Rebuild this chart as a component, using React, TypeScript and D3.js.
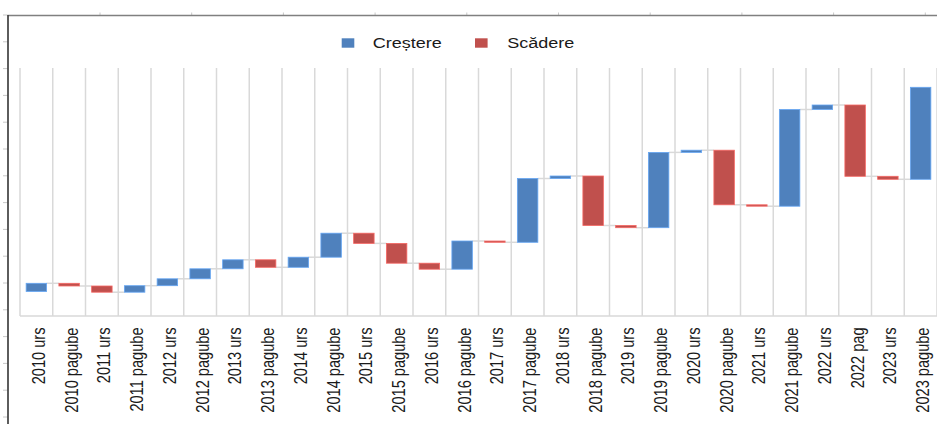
import React from 'react';
import * as d3 from 'd3';

const categories = [
  '2010 urs', '2010 pagube', '2011 urs', '2011 pagube', '2012 urs', '2012 pagube',
  '2013 urs', '2013 pagube', '2014 urs', '2014 pagube', '2015 urs', '2015 pagube',
  '2016 urs', '2016 pagube', '2017 urs', '2017 pagube', '2018 urs', '2018 pagube',
  '2019 urs', '2019 pagube', '2020 urs', '2020 pagube', '2021 urs', '2021 pagube',
  '2022 urs', '2022 pag', '2023 urs', '2023 pagube',
];
const startValue = 24.5;
const changes = [
  8.2, -2.7, -6.2, 6.5, 6.9, 10, 9, -7.5, 10.1, 24, -10.2, -19.8, -6, 28.2,
  -1.3, 63.8, 2.5, -49.5, -2.2, 75.3, 2.2, -54.6, -1.4, 96.7, 4.5, -71.3, -3, 92,
];
const seriesNames = ['Creștere', 'Scădere'];
const seriesColors = ['#4F81BD', '#C0504D'];
const yDomain = [0, 248];

const W = 937;
const H = 424;
const plot = { left: 20, right: 937, top: 68, bottom: 316 };

export default function App() {
  const x = d3
    .scaleBand<string>()
    .domain(categories)
    .range([plot.left, plot.right])
    .paddingInner(0.375)
    .paddingOuter(0.1875);
  const y = d3.scaleLinear().domain(yDomain).range([plot.bottom, plot.top]);
  const step = x.step();

  let level = startValue;
  const bars = changes.map((d, i) => {
    const from = level;
    const to = level + d;
    level = to;
    return { cat: categories[i], from, to, up: d >= 0 };
  });

  const gridXs = d3.range(categories.length + 1).map((k) => plot.left + k * step);
  const topTicks = d3.range(10).map((k) => 100 + k * 91.7);
  const leftTicks = d3.range(16).map((k) => 15 + k * 26.8);

  const font = "'Liberation Sans', Arial, sans-serif";

  return (
    <svg
      width={W}
      height={H}
      style={{ position: 'absolute', left: 0, top: 0, background: '#fff' }}
    >
      {/* outer frame */}
      {topTicks.map((tx, i) => (
        <line key={'tt' + i} x1={tx} x2={tx} y1={12.5} y2={15} stroke="#c8c8c8" strokeWidth={1} />
      ))}
      {leftTicks.map((ty, i) => (
        <line key={'lt' + i} x1={3} x2={8} y1={ty} y2={ty} stroke="#c8c8c8" strokeWidth={1} />
      ))}
      <line x1={8} x2={W} y1={15.5} y2={15.5} stroke="#808080" strokeWidth={1.7} />
      <line x1={8} x2={8} y1={15} y2={H} stroke="#404040" strokeWidth={1.7} />

      {/* gridlines */}
      {gridXs.map((gx, i) => (
        <line key={'g' + i} x1={gx} x2={gx} y1={plot.top} y2={plot.bottom} stroke="#d9d9d9" strokeWidth={1.5} />
      ))}
      <line x1={plot.left} x2={plot.right} y1={plot.bottom} y2={plot.bottom} stroke="#d9d9d9" strokeWidth={1.5} />

      {/* connectors */}
      {bars.slice(0, -1).map((b, i) => {
        const x1 = (x(b.cat) as number) + x.bandwidth();
        const x2 = x(bars[i + 1].cat) as number;
        return (
          <line key={'c' + i} x1={x1} x2={x2} y1={y(b.to)} y2={y(b.to)} stroke="#d9d9d9" strokeWidth={1.5} />
        );
      })}

      {/* bars */}
      {bars.map((b, i) => {
        const c = b.up ? seriesColors[0] : seriesColors[1];
        const y0 = y(Math.max(b.from, b.to));
        const y1 = y(Math.min(b.from, b.to));
        return (
          <rect
            key={'b' + i}
            x={x(b.cat)}
            y={y0}
            width={x.bandwidth()}
            height={Math.max(0.5, y1 - y0)}
            fill={c}
            stroke={d3.color(c)!.brighter(0.7).formatHex()}
            strokeWidth={0.8}
          />
        );
      })}

      {/* category labels */}
      {categories.map((cat) => {
        const cx = (x(cat) as number) + x.bandwidth() / 2;
        return (
          <text
            key={cat}
            transform={`translate(${cx + 8.5},327.5) scale(1.25,1) rotate(-90)`}
            textAnchor="end"
            fontFamily={font}
            fontSize={14.6}
            fill="#1a1a1a"
          >
            {cat}
          </text>
        );
      })}

      {/* legend */}
      <rect x={341.7} y={38.3} width={12.6} height={9.4} fill={seriesColors[0]} />
      <text transform="translate(372.7,47.7) scale(1.17,1)" fontFamily={font} fontSize={15.4} fill="#1a1a1a">
        {seriesNames[0]}
      </text>
      <rect x={475} y={38.3} width={12.6} height={9.4} fill={seriesColors[1]} />
      <text transform="translate(507.3,47.7) scale(1.17,1)" fontFamily={font} fontSize={15.4} fill="#1a1a1a">
        {seriesNames[1]}
      </text>
    </svg>
  );
}
